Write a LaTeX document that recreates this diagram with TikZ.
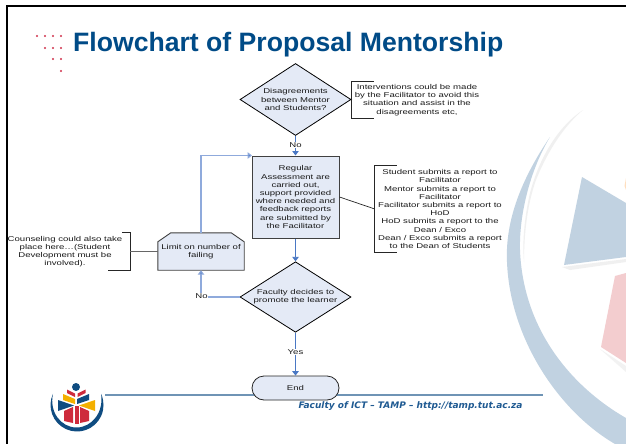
\documentclass[tikz,border=0pt]{standalone}
\usepackage{fontspec}
\setmainfont{Liberation Sans}
\newfontfamily\flowfont[FakeStretch=1.37]{Liberation Sans}
\newfontfamily\footfont{DejaVu Sans}
\usetikzlibrary{shapes.geometric,shapes.misc,arrows.meta,calc}
\definecolor{boxfill}{HTML}{E4EAF6}
\definecolor{flowblue}{HTML}{4A78C4}
\definecolor{lightflow}{HTML}{8FAADC}
\definecolor{titleblue}{HTML}{004B87}
\definecolor{footblue}{HTML}{1F5A92}
\definecolor{rulecol}{HTML}{6F94B5}
\definecolor{bgblue}{HTML}{C1D2E1}
\definecolor{bgpink}{HTML}{F3CDCF}
\definecolor{logored}{HTML}{CE2B3C}
\definecolor{logoyel}{HTML}{F4B000}
\definecolor{logoblue}{HTML}{0F4C81}
\definecolor{dotred}{HTML}{D0304A}
\tikzset{
  flowtext/.style={font=\flowfont\fontsize{7}{8.2}\selectfont,align=center,text=black!90},
  decision/.style={flowtext,diamond,draw=black,line width=.8pt,fill=boxfill,shape aspect=1.5,inner sep=0pt,minimum width=111pt,minimum height=72pt},
  procbox/.style={flowtext,rectangle,draw=black!75,line width=1pt,fill=boxfill,inner sep=0pt},
  annot/.style={flowtext,rectangle,inner sep=0pt,minimum width=130pt},
  bracket/.style={draw=black!85,line width=.7pt},
  lbl/.style={flowtext,fill=white,inner sep=.6pt},
  flow/.style={draw=flowblue,line width=.9pt,-{Triangle[width=6.5pt,length=4.5pt]}},
  lightarrow/.style={draw=lightflow,line width=1.1pt,-{Triangle[width=6.5pt,length=4.5pt,fill=flowblue]}},
  reddot/.style={fill=dotred,draw=none}
}
\begin{document}
\begin{tikzpicture}[x=1pt,y=-1pt]
\useasboundingbox (0,0) rectangle (626,444);
\fill[white] (0,0) rectangle (626,444);
% background emblem
\fill[black!6] (583,110) .. controls (560,125) and (540,155) .. (530,193) .. controls (525,215) and (522,240) .. (524,262) .. controls (524,235) and (527,205) .. (536,180) .. controls (548,150) and (565,125) .. (583,110) -- cycle;
\fill[bgblue] (550,137) .. controls (522,178) and (505,220) .. (507,262) .. controls (510,340) and (560,412) .. (615,444) -- (626,444) -- (626,418) .. controls (572,387) and (523,330) .. (520,250) .. controls (519,215) and (530,170) .. (550,137) -- cycle;
\fill[black!6] (562,267) -- (626,259) -- (626,262) -- (570,270) -- cycle;
\fill[bgblue] (582,177) -- (564,265) -- (626,257) -- (626,203) -- cycle;
\fill[bgpink] (615,276) -- (601,347) -- (626,363) -- (626,273) -- cycle;
\fill[black!5] (600,349) -- (626,366) -- (626,372) -- cycle;
\fill[orange!25] (626,178) -- (624.5,186) -- (626,190) -- cycle;
% frame
\draw[black,line width=2.2pt] (626,6.2) -- (7,6.2) -- (7,444);
% title dots
\foreach \x/\y in {37/36,45/36,53/36,61/36,45/48,53/48,61/48,53/59,61/59,61/71}
  \fill[reddot] (\x,\y) circle (1.1pt);
% title
\node[anchor=base west,inner sep=0pt,font=\bfseries\fontsize{26.6}{30}\selectfont,text=titleblue] (title) at (73,52) {Flowchart of Proposal Mentorship};
% rule and footer
\coordinate (ruleL) at (105,395);
\coordinate (ruleR) at (543,395);
\draw[rulecol,line width=1.5pt] (ruleL) -- (ruleR);
\node[anchor=center,inner sep=0pt,font=\footfont\bfseries\itshape\fontsize{9}{10}\selectfont,text=footblue] (foot) at (410.5,406) {Faculty of ICT – TAMP – http://tamp.tut.ac.za};
% logo
\fill[logoblue] (53,393.8) arc[start angle=205,end angle=-25,radius=26.5] .. controls (104,412) and (92,427.5) .. (76.5,427.5) .. controls (61,427.5) and (49,412) .. (53,393.8) -- cycle;
\fill[logoblue] (76,387) circle (4pt);
\fill[logored] (67,389.5) -- (75,393.5) -- (75,397) -- (67,393) -- cycle;
\fill[logored] (85.5,389.5) -- (77.5,393.5) -- (77.5,397) -- (85.5,393) -- cycle;
\fill[logoyel] (63,394) -- (75,399) -- (75,404) -- (63,400) -- cycle;
\fill[logoblue] (89,394) -- (77,399) -- (77,404) -- (89,400) -- cycle;
\fill[logoblue] (58,400) -- (74,405.5) -- (58,411) -- cycle;
\fill[logoyel] (95,400) -- (79,405.5) -- (95,411) -- cycle;
\fill[logored] (64,411) -- (73,407) -- (73,423) -- (64,421) -- cycle;
\fill[logored] (74.5,406) -- (78.5,406) -- (78.5,423.5) -- (74.5,423.5) -- cycle;
\fill[logored] (89,411) -- (80,407) -- (80,423) -- (89,421) -- cycle;
% nodes
\node[decision] (d1) at (295.5,99.5) {Disagreements\\between Mentor\\and Students?};
\node[procbox,minimum width=87pt,minimum height=82pt] (r) at (295.5,197) {Regular\\Assessment are\\carried out,\\support provided\\where needed and\\feedback reports\\are submitted by\\the Facilitator};
\node[decision,minimum height=68pt] (d2) at (295.5,297) {Faculty decides to\\promote the learner};
\node[flowtext,rounded rectangle,draw=black!85,line width=.8pt,fill=boxfill,minimum width=87pt,minimum height=24pt,inner sep=0pt] (endn) at (295.5,388) {End};
\node[rectangle,inner sep=0pt,minimum width=86pt,minimum height=37pt] (lim) at (201,251.5) {};
\draw[draw=black!75,line width=.9pt,fill=boxfill] (lim.south west) -- ($(lim.north west)+(0,9)$) -- ($(lim.north west)+(13,0)$) -- ($(lim.north east)+(-13,0)$) -- ($(lim.north east)+(0,9)$) -- (lim.south east) -- cycle;
\node[flowtext,inner sep=0pt] (limtext) at (lim.center) {Limit on number of\\failing};
\node[annot,minimum height=36pt] (a1) at (417,100) {Interventions could be made\\by the Facilitator to avoid this\\situation and assist in the\\disagreements etc,};
\node[annot,minimum height=86pt] (a2) at (440,209) {Student submits a report to\\Facilitator\\Mentor submits a report to\\Facilitator\\Facilitator submits a report to\\HoD\\HoD submits a report to the\\Dean / Exco\\Dean / Exco submits a report\\to the Dean of Students};
\node[annot,minimum height=37pt] (a3) at (65,251.5) {Counseling could also take\\place here…(Student\\Development must be\\involved).};
% brackets
\draw[bracket] ($(a1.north west)+(22,0)$) -- (a1.north west) -- (a1.south west) -- ($(a1.south west)+(22,0)$);
\draw[bracket] ($(a2.north west)+(22,0)$) -- (a2.north west) -- (a2.south west) -- ($(a2.south west)+(22,0)$);
\draw[bracket,line width=.8pt] ($(a3.north east)+(-8,0)$) -- (a3.north east) -- (a3.south east) -- ($(a3.south east)+(-22,0)$);
\draw[bracket] (d1.east) -- (a1.west);
\draw[bracket] (r.east) -- (a2.west);
\draw[draw=black!60,line width=1.2pt] (lim.west) -- (a3.east);
% connectors
\draw[flow] (d1.south) -- (r.north);
\node[lbl] (no1) at (295.5,145) {No};
\draw[flow] (r.south) -- (d2.north);
\draw[flow] (d2.south) -- (endn.north);
\node[lbl] (yes) at (295.5,352) {Yes};
\draw[lightarrow] (d2.west) -| (lim.south);
\node[lbl] (no2) at (201.5,296.5) {No};
\coordinate (entry) at (252,155.5);
\draw[lightarrow] (lim.north) |- (entry);
\end{tikzpicture}
\end{document}
